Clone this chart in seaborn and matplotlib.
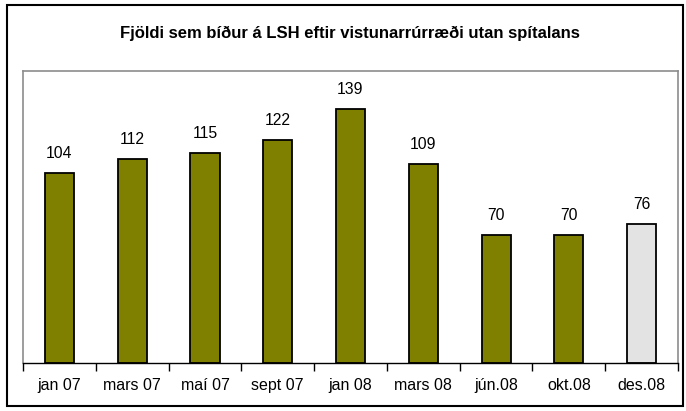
import matplotlib
matplotlib.use("Agg")
import matplotlib.pyplot as plt
import numpy as np
import pandas as pd
import seaborn as sns
from matplotlib.patches import Rectangle

# Data
months = ["jan 07", "mars 07", "maí 07", "sept 07", "jan 08", "mars 08", "jún.08", "okt.08", "des.08"]
waiting = [104, 112, 115, 122, 139, 109, 70, 70, 76]
bar_colors = ["#808000"] * 8 + ["#e3e3e3"]

sns.set_style("white")
plt.rcParams["font.family"] = ["Liberation Sans", "DejaVu Sans"]
plt.rcParams["text.color"] = "black"
plt.rcParams["xtick.color"] = "black"

df = pd.DataFrame({"month": months, "value": waiting})

fig = plt.figure(figsize=(6.86, 4.11), dpi=100)
ax = fig.add_axes([23 / 686, 48 / 411, 655 / 686, 292 / 411])

sns.barplot(
    data=df,
    x="month",
    y="value",
    hue="month",
    palette=bar_colors,
    saturation=1,
    legend=False,
    width=0.4,
    edgecolor="black",
    linewidth=1.3,
    ax=ax,
)

for i, v in enumerate(waiting):
    ax.text(i, v + 6.5, str(v), ha="center", va="bottom", fontsize=11.3, color="black")

ax.set_ylim(0, 160)
ax.set_xlim(-0.5, len(months) - 0.5)
ax.set_xlabel("")
ax.set_ylabel("")
ax.set_yticks([])

ax.set_xticks(range(len(months)))
ax.set_xticklabels(months, fontsize=11.5, color="black")
ax.set_xticks(np.arange(-0.5, len(months), 1), minor=True)
ax.tick_params(axis="x", which="major", bottom=True, length=0, pad=11)
ax.tick_params(axis="x", which="minor", bottom=True, length=6, width=1, color="black", direction="out")

for side in ["left", "right", "top"]:
    ax.spines[side].set_visible(True)
    ax.spines[side].set_color("#8c8c8c")
    ax.spines[side].set_linewidth(1.2)
ax.spines["bottom"].set_color("black")
ax.spines["bottom"].set_linewidth(1)

fig.text(350 / 686, 1 - 33 / 411, "Fjöldi sem bíður á LSH eftir vistunarrúrræði utan spítalans",
         ha="center", va="center", fontsize=12, fontweight="bold", color="black")

fig.patches.append(Rectangle((7 / 686, 5 / 411), 676 / 686, 401 / 411, transform=fig.transFigure,
                             fill=False, edgecolor="black", linewidth=1.5))

fig.savefig("out.png", dpi=100)
